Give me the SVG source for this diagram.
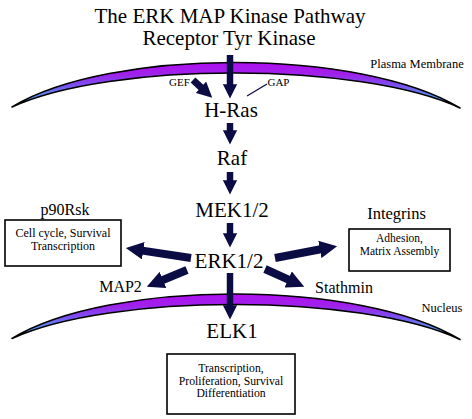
<svg xmlns="http://www.w3.org/2000/svg" width="472" height="419" viewBox="0 0 472 419">
<style>
text{font-family:'Liberation Serif','Times New Roman','DejaVu Serif',serif;fill:#000;text-anchor:middle}
.t{font-size:21px}
.n{font-size:21px}
.m{font-size:16px}
.s{font-size:12px}
.xs{font-size:11px}
.box{fill:#fff;stroke:#000;stroke-width:1.6}
.a{stroke:#0c0c45;fill:none;marker-end:url(#h)}
.v{stroke-width:6.5}
.d{stroke-width:8}
.mem{fill:url(#g);stroke:#000;stroke-width:1.6;stroke-linejoin:round}
</style>
<defs>
<linearGradient id="g" x1="0" y1="0" x2="0" y2="1">
<stop offset="0" stop-color="#b010f0"/>
<stop offset="0.25" stop-color="#a020ea"/>
<stop offset="0.5" stop-color="#7a50f0"/>
<stop offset="0.75" stop-color="#5a90f0"/>
<stop offset="1" stop-color="#70b0f0"/>
</linearGradient>
<marker id="h" viewBox="0 0 10 10" refX="0.5" refY="5" markerWidth="2.2" markerHeight="2.2" orient="auto">
<path d="M0,0 L10,5 L0,10 Z" fill="#0c0c45"/>
</marker>
<path id="memb" d="M12,107 C110,47.5 360,47.5 460,108 C360,61.5 110,61.5 12,107 Z"/>
</defs>

<g id="title" font-family="Liberation Serif, serif">
<text class="t" x="230" y="23">The ERK MAP Kinase Pathway</text>
<text class="t" x="229" y="45">Receptor Tyr Kinase</text>
</g>

<g id="plasma-membrane">
<use href="#memb" class="mem"/>
<text class="s" x="417" y="68" style="font-size:12.5px">Plasma Membrane</text>
</g>

<g id="nucleus-membrane">
<use href="#memb" class="mem" transform="translate(0,231.5)"/>
<text class="s" x="442" y="312" style="font-size:12.5px">Nucleus</text>
</g>

<g id="connectors">
<line class="a v" x1="230" y1="55" x2="230" y2="85"/>
<line class="a" style="stroke-width:7" x1="193" y1="80" x2="201.5" y2="87.8"/>
<line x1="267" y1="84" x2="247" y2="96" stroke="#0c0c45" stroke-width="1.3"/>
<line class="a v" x1="230" y1="123" x2="230" y2="131"/>
<line class="a v" x1="230" y1="172" x2="230" y2="181"/>
<line class="a v" x1="230" y1="223" x2="230" y2="234"/>
<line class="a v" x1="230" y1="273" x2="230" y2="306"/>
<line class="a d" x1="191" y1="258" x2="142.4" y2="250.6"/>
<line class="a d" x1="187" y1="270" x2="162.2" y2="280.3"/>
<line class="a d" x1="275" y1="258" x2="320.7" y2="249.3"/>
<line class="a d" x1="265" y1="269" x2="289" y2="279.8"/>
</g>

<g id="gef"><text class="xs" x="179.5" y="86">GEF</text></g>
<g id="gap"><text class="xs" x="278.5" y="86">GAP</text></g>
<g id="hras"><text class="n" x="231" y="117">H-Ras</text></g>
<g id="raf"><text class="n" x="232" y="165">Raf</text></g>
<g id="mek"><text class="n" x="232" y="217">MEK1/2</text></g>
<g id="erk"><text class="n" x="229" y="268">ERK1/2</text></g>
<g id="elk1"><text class="n" x="232" y="338">ELK1</text></g>

<g id="p90rsk">
<text class="m" x="65" y="215">p90Rsk</text>
<rect class="box" x="5" y="220" width="116" height="46"/>
<text class="s" x="63" y="237">Cell cycle, Survival</text>
<text class="s" x="63" y="250">Transcription</text>
</g>

<g id="integrins">
<text class="m" x="396.5" y="219" style="font-size:16.5px">Integrins</text>
<rect class="box" x="349" y="229" width="101" height="42"/>
<text class="s" x="399.5" y="241.5" style="font-size:11.5px">Adhesion,</text>
<text class="s" x="399.5" y="254.5" style="font-size:11.5px">Matrix Assembly</text>
</g>

<g id="map2"><text class="m" x="120.5" y="292">MAP2</text></g>
<g id="stathmin"><text class="m" x="344" y="293">Stathmin</text></g>

<g id="elk-targets">
<rect class="box" x="167" y="354" width="128" height="60"/>
<text class="s" x="231" y="372" style="font-size:11.7px">Transcription,</text>
<text class="s" x="231" y="384.5" style="font-size:11.7px">Proliferation, Survival</text>
<text class="s" x="231" y="397" style="font-size:11.7px">Differentiation</text>
</g>
</svg>
